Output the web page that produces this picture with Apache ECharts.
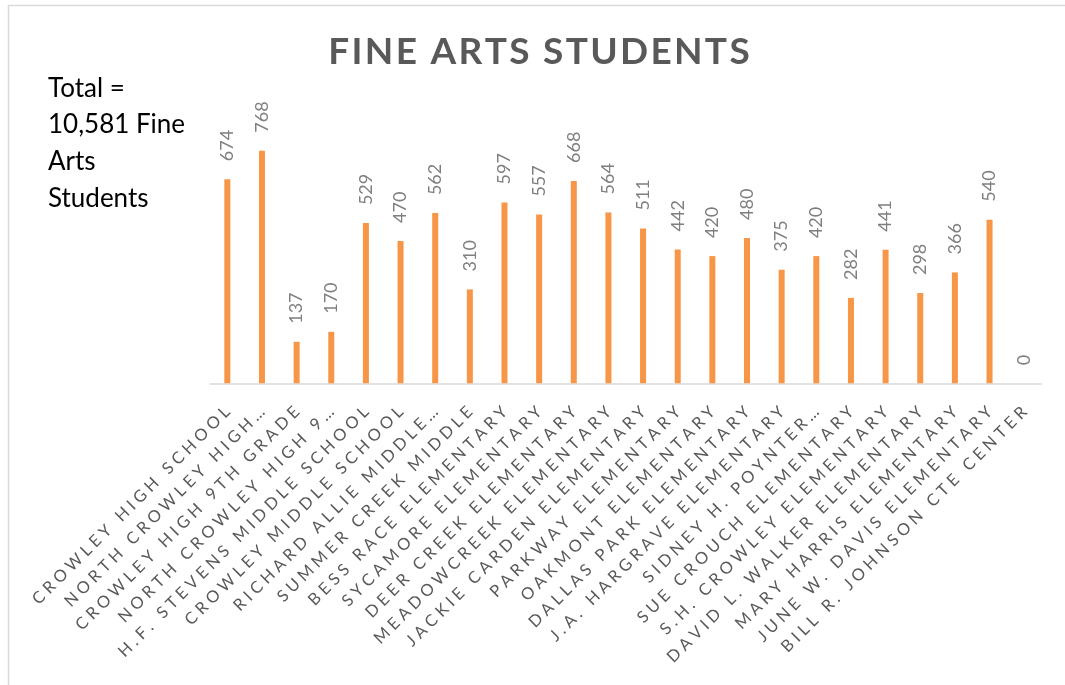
<!DOCTYPE html>
<html>
<head>
<meta charset="utf-8">
<script src="https://cdn.jsdelivr.net/npm/echarts@6/dist/echarts.min.js"></script>
<style>
html,body{margin:0;padding:0;background:#fff;}
#main{width:1065px;height:685px;}
</style>
</head>
<body>
<div id="main"></div>
<script>
const categories = [
  'CROWLEY HIGH SCHOOL', 'NORTH CROWLEY HIGH…', 'CROWLEY HIGH 9TH GRADE', 'NORTH CROWLEY HIGH 9…',
  'H.F. STEVENS MIDDLE SCHOOL', 'CROWLEY MIDDLE SCHOOL', 'RICHARD ALLIE MIDDLE…', 'SUMMER CREEK MIDDLE',
  'BESS RACE ELEMENTARY', 'SYCAMORE ELEMENTARY', 'DEER CREEK ELEMENTARY', 'MEADOWCREEK ELEMENTARY',
  'JACKIE CARDEN ELEMENTARY', 'PARKWAY ELEMENTARY', 'OAKMONT ELEMENTARY', 'DALLAS PARK ELEMENTARY',
  'J.A. HARGRAVE ELEMENTARY', 'SIDNEY H. POYNTER…', 'SUE CROUCH ELEMENTARY', 'S.H. CROWLEY ELEMENTARY',
  'DAVID L. WALKER ELEMENTARY', 'MARY HARRIS ELEMENTARY', 'JUNE W. DAVIS ELEMENTARY', 'BILL R. JOHNSON CTE CENTER'
];
const students = [674, 768, 137, 170, 529, 470, 562, 310, 597, 557, 668, 564, 511, 442, 420, 480, 375, 420, 282, 441, 298, 366, 540, 0];
const chartTitle = 'FINE ARTS STUDENTS';
const totalNote = ['Total =', '10,581 Fine', 'Arts', 'Students'];

const spaced = (s, sep) => s.split('').join(sep);

const chart = echarts.init(document.getElementById('main'), null, {renderer: 'canvas'});
chart.setOption({
  animation: false,
  backgroundColor: '#ffffff',
  grid: {left: 210, right: 23.5, top: 110.7, bottom: 301.7, containLabel: false},
  xAxis: {
    type: 'category',
    data: categories,
    axisLine: {lineStyle: {color: '#d9d9d9', width: 1.5}},
    axisTick: {show: false},
    axisLabel: {
      interval: 0,
      rotate: 45,
      margin: 26,
      color: '#595959',
      fontFamily: 'Lato',
      fontSize: 16.5,
      formatter: v => spaced(v, '\u2005')
    }
  },
  yAxis: {
    type: 'value',
    min: 0,
    max: 900,
    show: false,
    splitLine: {show: false}
  },
  series: [{
    type: 'bar',
    data: students,
    barWidth: 6,
    itemStyle: {color: '#F79646'},
    label: {
      show: true,
      position: 'top',
      distance: 18,
      rotate: 90,
      align: 'left',
      verticalAlign: 'middle',
      color: '#7f7f7f',
      fontFamily: 'Lato',
      fontSize: 18
    }
  }],
  graphic: [
    {
      type: 'rect',
      shape: {x: 8.5, y: 5.5, width: 1100, height: 720},
      style: {fill: 'none', stroke: '#d9d9d9', lineWidth: 1.5},
      silent: true
    },
    {
      type: 'text',
      x: 539, y: 52,
      style: {
        text: spaced(chartTitle, '\u200A'),
        fontFamily: 'Lato', fontWeight: 'bold', fontSize: 37,
        fill: '#595959', textAlign: 'center', textVerticalAlign: 'middle'
      }
    },
    {
      type: 'text',
      x: 48, y: 70,
      style: {
        text: totalNote.join('\n'),
        fontFamily: 'Lato', fontSize: 26, lineHeight: 36.7,
        fill: '#000000', textAlign: 'left', textVerticalAlign: 'top'
      }
    }
  ]
});
</script>
</body>
</html>
